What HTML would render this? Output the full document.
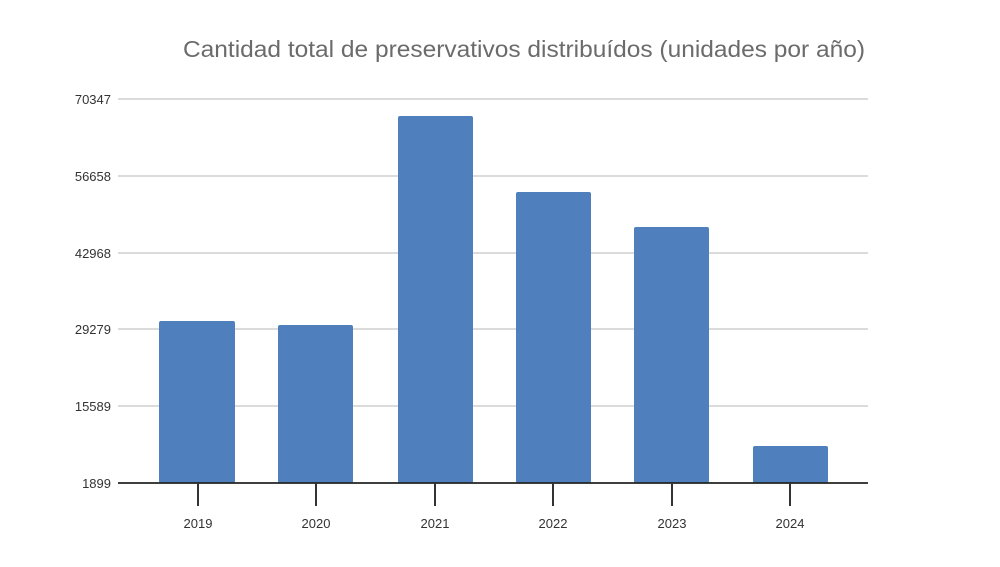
<!DOCTYPE html>
<html><head><meta charset="utf-8"><style>
html,body{margin:0;padding:0;background:#fff;}
body{width:1000px;height:562px;overflow:hidden;}
</style></head><body>
<svg width="1000" height="562" xmlns="http://www.w3.org/2000/svg" font-family="'Liberation Sans', sans-serif">
<rect width="1000" height="562" fill="#fff"/>
<text x="183" y="57" font-size="23" fill="#6b6b6b" textLength="682" lengthAdjust="spacingAndGlyphs">Cantidad total de preservativos distribuídos (unidades por año)</text>
<g stroke="#cfcfcf" stroke-width="1.5">
<line x1="118" y1="99" x2="868" y2="99"/>
<line x1="118" y1="176" x2="868" y2="176"/>
<line x1="118" y1="253" x2="868" y2="253"/>
<line x1="118" y1="329" x2="868" y2="329"/>
<line x1="118" y1="406" x2="868" y2="406"/>
</g>
<g font-size="13" fill="#333" text-anchor="end">
<text x="111" y="104">70347</text>
<text x="111" y="181">56658</text>
<text x="111" y="258">42968</text>
<text x="111" y="334">29279</text>
<text x="111" y="411">15589</text>
<text x="111" y="488">1899</text>
</g>
<g fill="#4f7fbc">
<rect x="159" y="321" width="76" height="162" rx="2"/>
<rect x="278" y="325" width="75" height="158" rx="2"/>
<rect x="398" y="116" width="75" height="367" rx="2"/>
<rect x="516" y="192" width="75" height="291" rx="2"/>
<rect x="634" y="227" width="75" height="256" rx="2"/>
<rect x="753" y="446" width="75" height="37" rx="2"/>
</g>
<line x1="118" y1="483" x2="868" y2="483" stroke="#222" stroke-width="1.8"/>
<g stroke="#333" stroke-width="2">
<line x1="198" y1="483" x2="198" y2="506"/>
<line x1="316" y1="483" x2="316" y2="506"/>
<line x1="435" y1="483" x2="435" y2="506"/>
<line x1="553" y1="483" x2="553" y2="506"/>
<line x1="672" y1="483" x2="672" y2="506"/>
<line x1="790" y1="483" x2="790" y2="506"/>
</g>
<g font-size="13" fill="#333" text-anchor="middle">
<text x="198" y="528">2019</text>
<text x="316" y="528">2020</text>
<text x="435" y="528">2021</text>
<text x="553" y="528">2022</text>
<text x="672" y="528">2023</text>
<text x="790" y="528">2024</text>
</g>
</svg>
</body></html>
